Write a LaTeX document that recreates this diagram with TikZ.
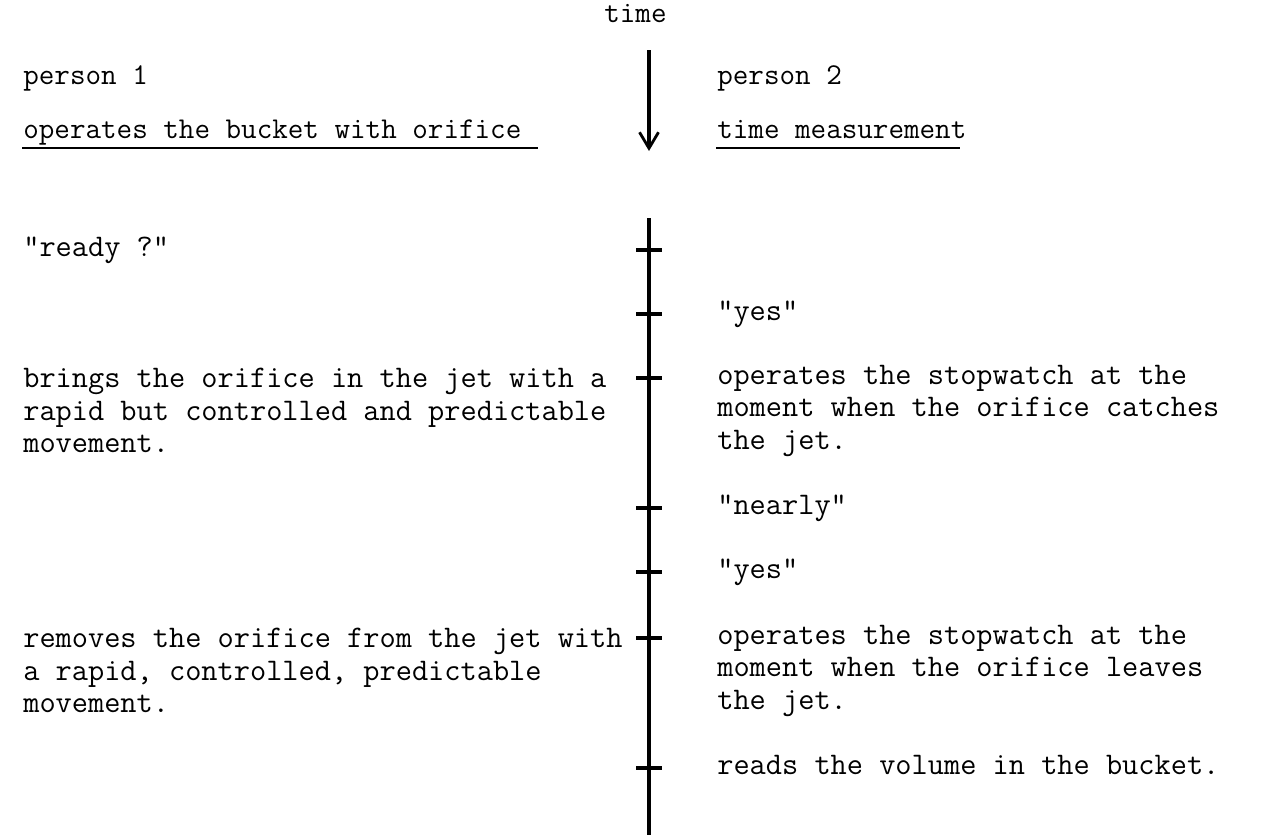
\documentclass[tikz,border=0pt]{standalone}
\usepackage{tikz}
\usetikzlibrary{arrows.meta}

\begin{document}
\begin{tikzpicture}[x=0.02cm,y=-0.02cm,line width=1.5pt,
  txt/.style={font=\fontsize{17.2}{18.5}\selectfont\ttfamily,anchor=base west,inner sep=0pt,align=left},
  body/.style={txt,font=\fontsize{17.9}{18.5}\selectfont\ttfamily},
  blk/.style={body,anchor=west},
  tick/.style={line width=2pt},
  uline/.style={line width=1.4pt}]
  \useasboundingbox (0,0) rectangle (1272,835);
  % kopfzeile
  \node[txt] (time) at (603,22){time};
  \node[txt] (p1) at (22,84){person 1};
  \node[txt] (p2) at (716,84){person 2};
  \node[txt] (task1) at (22,138){operates the bucket with orifice};
  \node[txt] (task2) at (716,138){time measurement};
  \draw[uline] (22,148)--(538,148); \draw[uline] (716,148)--(960,148);
  % zeitpfeil
  \coordinate (a0) at (649,50); \coordinate (a1) at (649,151);
  \draw[line width=2pt,-{Straight Barb[length=3.2mm,width=3.8mm,line width=1.6pt]}] (a0)--(a1);
  % zeitachse mit strichen
  \coordinate (top) at (649,218); \coordinate (bot) at (649,835);
  \draw[line width=2.3pt] (top)--(bot);
  \foreach \n/\y in {1/250,2/314,3/378,4/508,5/572,6/638,7/768}{
    \coordinate (t\n) at (649,\y);
    \draw[tick] (636,\y)--(662,\y);
  }
  % person 1
  \node[body] (ready) at (22,256){"ready ?"};
  \node[blk] (bring) at (22,410.5){brings the orifice in the jet with a\\rapid but controlled and predictable\\movement.};
  \node[blk] (remove) at (22,670.5){removes the orifice from the jet with\\a rapid, controlled, predictable\\movement.};
  % person 2
  \node[body] (yes1) at (716,320){"yes"};
  \node[blk] (catch) at (716,410.5){operates the stopwatch at the\\moment when the orifice catches\\the jet.};
  \node[body] (nearly) at (716,514){"nearly"};
  \node[body] (yes2) at (716,578){"yes"};
  \node[blk] (leave) at (716,670.5){operates the stopwatch at the\\moment when the orifice leaves\\the jet.};
  \node[body] (read) at (716,774){reads the volume in the bucket.};
\end{tikzpicture}
\end{document}
